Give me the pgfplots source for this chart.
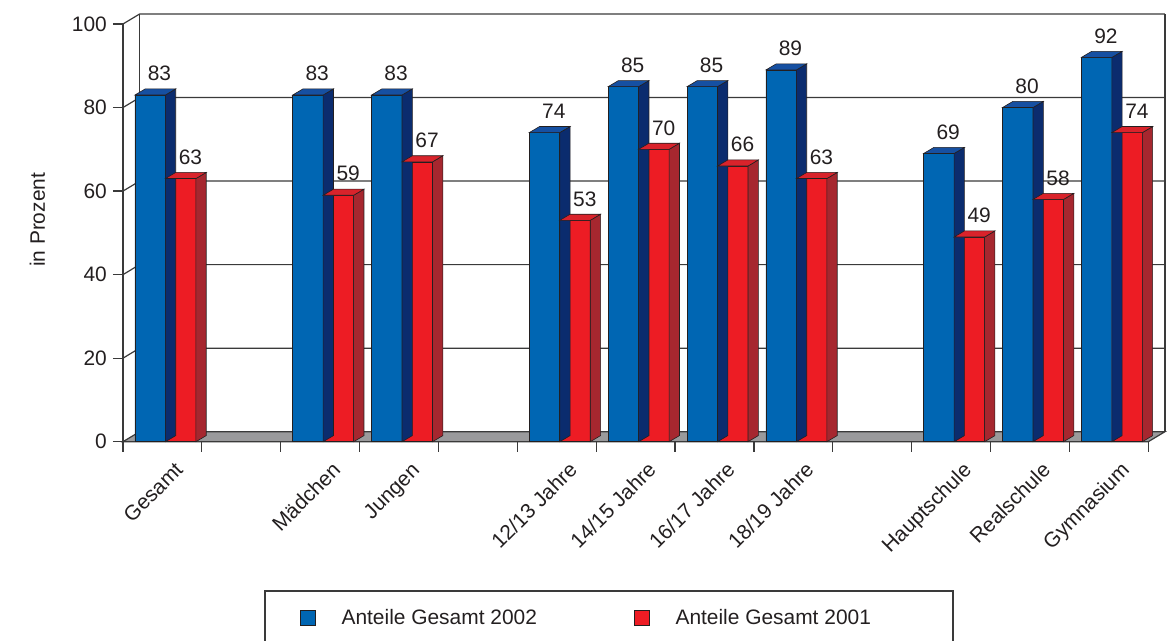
\documentclass[border=0pt]{standalone}
\usepackage{fontspec}
\setmainfont{Liberation Sans}
\usepackage{pgfplots}
\usepackage{pgfplotstable}
\pgfplotsset{compat=1.18}

\definecolor{barblue}{HTML}{0066B3}
\definecolor{bluetop}{HTML}{1650A2}
\definecolor{blueside}{HTML}{0B2C6E}
\definecolor{barred}{HTML}{ED1C24}
\definecolor{redtop}{HTML}{D9232B}
\definecolor{redside}{HTML}{A6272F}
\definecolor{floorgray}{HTML}{9A9A9C}
\definecolor{ink}{HTML}{231F20}
\definecolor{frame}{HTML}{3A3A3A}

% Anteile in Prozent, 2002 und 2001
\pgfplotstableread{
pos y2002 y2001
0   83    63
2   83    59
3   83    67
5   74    53
6   85    70
7   85    66
8   89    63
10  69    49
11  80    58
12  92    74
}\anteile

% empty marker: the faces are drawn by the pre marker code
\pgfdeclareplotmark{none3d}{}

\tikzset{
  edge/.style={draw=ink, line width=0.6bp},
  wallline/.style={draw=frame, line width=1.2bp},
  valuelabel/.style={anchor=center, inner sep=0pt, yshift=21.5bp, text=ink},
}

\begin{document}
\fontsize{21}{25}\selectfont
\begin{tikzpicture}[font=\fontsize{21}{25}\selectfont, text=ink]
\useasboundingbox (-123bp,-199.3bp) rectangle (1053bp,441.7bp);
\begin{axis}[
  at={(0,0)}, anchor=south west,
  x=78.87bp, y=4.177bp,
  xmin=-0.5, xmax=12.5, ymin=0, ymax=100,
  clip=false,
  axis x line*=bottom, axis y line*=left,
  axis line style={wallline},
  tick align=outside,
  major tick length=10bp,
  tick style={wallline},
  xtick={-0.5,0.5,...,12.5},
  x tick label as interval,
  xticklabels={Gesamt,{},Mädchen,Jungen,{},12/13 Jahre,14/15 Jahre,16/17 Jahre,18/19 Jahre,{},Hauptschule,Realschule,Gymnasium},
  xticklabel style={xshift=18bp, yshift=-16bp, rotate=45, anchor=east, inner sep=0pt, text height=0.75em, text depth=0.25em},
  ytick={0,20,...,100},
  yticklabel style={anchor=east, inner sep=0pt, xshift=-6bp},
  /pgf/number format/assume math mode=true,
  ylabel={in Prozent},
  ylabel style={at={(axis description cs:-0.0834,0.531)}, anchor=center},
  legend columns=2,
  legend style={at={(axis description cs:0.1726,-0.4221)}, anchor=west,
    draw=none, fill=none, inner sep=0pt, outer sep=0pt,
    nodes={inner sep=0pt, text=ink},
    /tikz/every odd column/.append style={column sep=26bp},
    /tikz/every even column/.append style={column sep=97bp}},
]
% floor
\filldraw[fill=floorgray, wallline]
  (axis cs:-0.5,0) -- (axis cs:12.5,0)
  -- ([shift={(16.6bp,10bp)}]axis cs:12.5,0)
  -- ([shift={(16.6bp,10bp)}]axis cs:-0.5,0) -- cycle;
% back wall: edges and grid lines
\draw[wallline] ([shift={(16.6bp,10bp)}]axis cs:-0.5,0) -- ([shift={(16.6bp,10bp)}]axis cs:-0.5,100);
\draw[wallline] ([shift={(16.6bp,10bp)}]axis cs:12.5,0) -- ([shift={(16.6bp,10bp)}]axis cs:12.5,100);
\pgfplotsinvokeforeach{20,40,60,80,100}{
  \draw[wallline] (axis cs:-0.5,#1) -- ++(16.6bp,10bp)
    -- ([shift={(16.6bp,10bp)}]axis cs:12.5,#1);
}

% 2002: front faces and value labels
\addplot[ybar, bar width=30.5bp, bar shift=-12.25bp, fill=barblue, edge,
  nodes near coords, nodes near coords style={valuelabel, xshift=-3bp},
  legend image code/.code={\filldraw[fill=barblue, draw=ink, line width=0.6bp] (0bp,-7.5bp) rectangle (15bp,7.5bp);}]
  table[x=pos, y=y2002] {\anteile};
\addlegendentry{Anteile Gesamt 2002}
% 2002: top and side faces
\addplot[forget plot, scatter, only marks, mark=none3d,
  visualization depends on={\thisrow{y2002} \as \val},
  scatter/@pre marker code/.code={%
    \filldraw[fill=blueside, edge] (3bp,0bp) -- (13.3bp,6.1bp) -- (13.3bp,6.1bp-\val*4.177bp) -- (3bp,-\val*4.177bp) -- cycle;
    \filldraw[fill=bluetop, edge] (-27.5bp,0bp) -- (3bp,0bp) -- (13.3bp,6.1bp) -- (-17.2bp,6.1bp) -- cycle;
  },
  scatter/@post marker code/.code={}]
  table[x=pos, y=y2002] {\anteile};

% 2001: front faces and value labels
\addplot[ybar, bar width=30.5bp, bar shift=18.25bp, fill=barred, edge,
  nodes near coords, nodes near coords style={valuelabel, xshift=28bp},
  legend image code/.code={\filldraw[fill=barred, draw=ink, line width=0.6bp] (0bp,-7.5bp) rectangle (15bp,7.5bp);}]
  table[x=pos, y=y2001] {\anteile};
\addlegendentry{Anteile Gesamt 2001}
% 2001: top and side faces
\addplot[forget plot, scatter, only marks, mark=none3d,
  visualization depends on={\thisrow{y2001} \as \val},
  scatter/@pre marker code/.code={%
    \filldraw[fill=redside, edge] (33.5bp,0bp) -- (43.8bp,6.1bp) -- (43.8bp,6.1bp-\val*4.177bp) -- (33.5bp,-\val*4.177bp) -- cycle;
    \filldraw[fill=redtop, edge] (3bp,0bp) -- (33.5bp,0bp) -- (43.8bp,6.1bp) -- (13.3bp,6.1bp) -- cycle;
  },
  scatter/@post marker code/.code={}]
  table[x=pos, y=y2001] {\anteile};

% legend frame
\draw[line width=1.2bp, draw=frame] (axis description cs:0.1385,-0.5) -- (axis description cs:0.1385,-0.3574)
  -- (axis description cs:0.8095,-0.3574) -- (axis description cs:0.8095,-0.5);
\end{axis}
\end{tikzpicture}
\end{document}
